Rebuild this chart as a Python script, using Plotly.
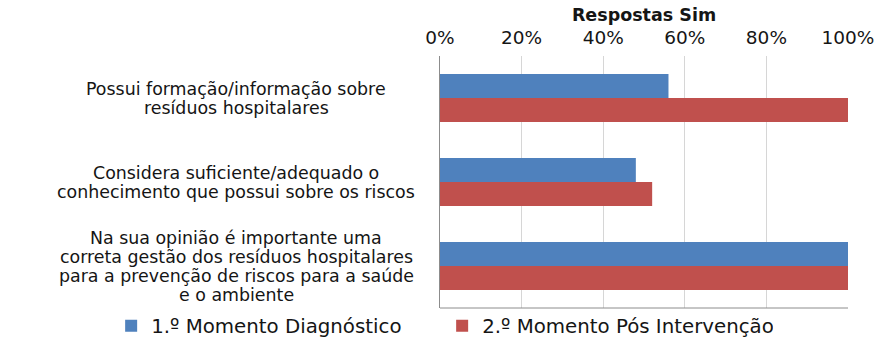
import plotly.graph_objects as go

categories = [
    "Possui formação/informação sobre<br>resíduos hospitalares",
    "Considera suficiente/adequado o<br>conhecimento que possui sobre os riscos",
    "Na sua opinião é importante uma<br>correta gestão dos resíduos hospitalares<br>para a prevenção de riscos para a saúde<br>e o ambiente",
]
momento1 = [0.56, 0.48, 1.00]
momento2 = [1.00, 0.52, 1.00]
series_names = ["1.º Momento Diagnóstico", "2.º Momento Pós Intervenção"]
tick_vals = [0, 0.2, 0.4, 0.6, 0.8, 1.0]
tick_text = ["0%", "20%", "40%", "60%", "80%", "100%"]

FONT = "DejaVu Sans"
TEXT = "#151515"
BLUE = "#4F81BD"
RED = "#C0504D"
LINE_H = 19  # px between label lines

fig = go.Figure()
fig.add_trace(go.Bar(y=categories, x=momento1, orientation="h", name=series_names[0],
                     marker=dict(color=BLUE, line=dict(width=0))))
fig.add_trace(go.Bar(y=categories, x=momento2, orientation="h", name=series_names[1],
                     marker=dict(color=RED, line=dict(width=0))))

# category labels: each line centred on a common axis left of the plot
for cat in categories:
    lines = cat.split("<br>")
    n = len(lines)
    for i, line in enumerate(lines):
        fig.add_annotation(x=-0.5, xref="paper", xanchor="center",
                           y=cat, yref="y", yanchor="middle",
                           yshift=-(i - (n - 1) / 2) * LINE_H,
                           text=line, showarrow=False,
                           font=dict(family=FONT, size=17.4, color=TEXT))

# bottom frame line
fig.add_shape(type="line", xref="paper", yref="paper", x0=0, x1=1, y0=0, y1=0,
              line=dict(color="#8C8C8C", width=1))

fig.update_layout(
    width=879, height=338,
    margin=dict(l=440, r=31, t=56, b=30, autoexpand=False),
    paper_bgcolor="white", plot_bgcolor="white",
    barmode="group", bargap=0.43, bargroupgap=0,
    font=dict(family=FONT, size=16, color=TEXT),
    showlegend=True,
    legend=dict(orientation="h", x=-0.806, xanchor="left", y=-0.071, yanchor="middle",
                font=dict(family=FONT, size=19.8, color=TEXT),
                itemwidth=30, entrywidth=286, traceorder="normal",
                bgcolor="rgba(0,0,0,0)"),
    xaxis=dict(side="top", range=[0, 1], tickvals=tick_vals, ticktext=tick_text,
               showgrid=True, gridcolor="#D6D6D6", gridwidth=1, zeroline=False,
               showline=False, ticks="", ticklabelstandoff=7, automargin=False,
               tickfont=dict(family=FONT, size=18.5, color=TEXT),
               title=dict(text="<b>Respostas Sim</b>", standoff=1,
                          font=dict(family=FONT, size=17.5, color=TEXT))),
    yaxis=dict(autorange="reversed", showticklabels=False, ticks="", automargin=False,
               showline=True, linecolor="#8C8C8C", linewidth=1, showgrid=False),
)

fig.write_html("out.html")
